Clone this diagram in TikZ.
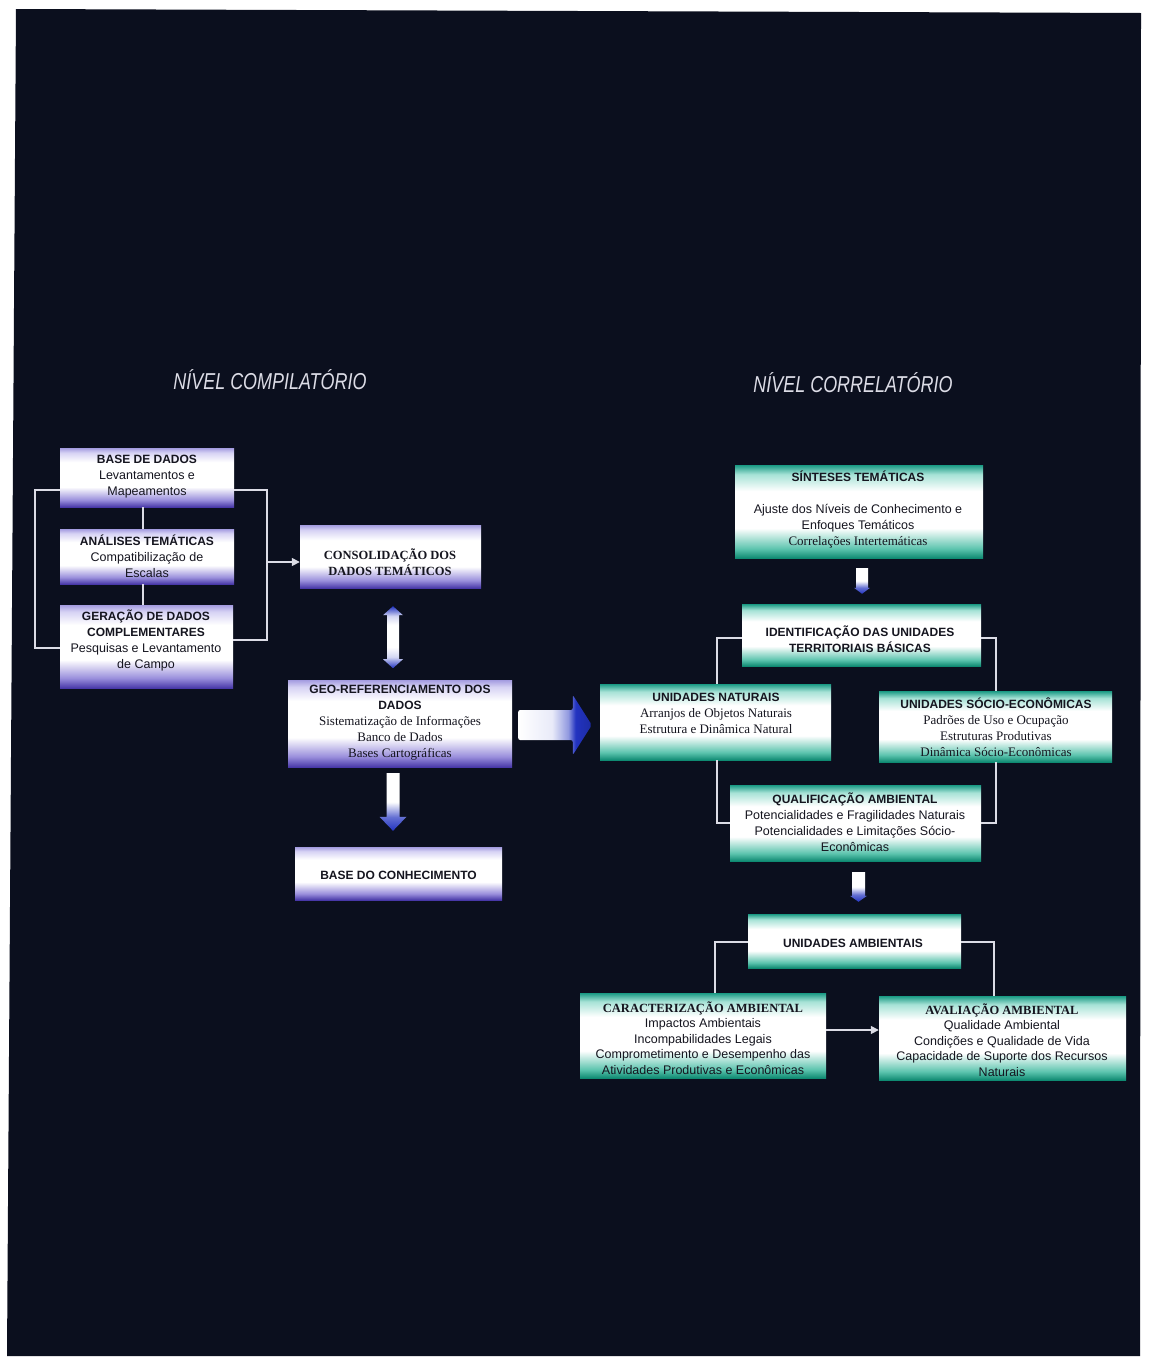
\documentclass[tikz,border=0pt]{standalone}
\usepackage{fontspec}
\usepackage{graphicx}
\setmainfont{Liberation Serif}
\setsansfont{Liberation Sans}
\usetikzlibrary{arrows.meta,calc}
\definecolor{bg}{HTML}{0B0F1E}
\definecolor{tx}{HTML}{15151F}
\definecolor{ln}{HTML}{DCDCE6}
\definecolor{pbot}{HTML}{4838A8}
\definecolor{pmid}{HTML}{9A8FDC}
\definecolor{ptopl}{HTML}{D6D2F4}
\definecolor{ptop}{HTML}{A49CE0}
\definecolor{tbot}{HTML}{0F8A72}
\definecolor{tmid}{HTML}{5CC4AE}
\definecolor{ttopl}{HTML}{A6E2D6}
\definecolor{ttop}{HTML}{1A9A84}
\definecolor{ablue}{HTML}{2233C0}
\pgfdeclareverticalshading{purplebox}{100bp}{color(0bp)=(pbot); color(25bp)=(pbot); color(31bp)=(pmid); color(42bp)=(white); color(63bp)=(white); color(71bp)=(ptopl); color(75bp)=(ptop); color(100bp)=(ptop)}
\pgfdeclareverticalshading{tealbox}{100bp}{color(0bp)=(tbot); color(25bp)=(tbot); color(30bp)=(tmid); color(41bp)=(white); color(61bp)=(white); color(70bp)=(ttopl); color(75bp)=(ttop); color(100bp)=(ttop)}
\pgfdeclarehorizontalshading{rarrow}{100bp}{color(0bp)=(white); color(25bp)=(white); color(48bp)=(white!90!ablue); color(59bp)=(ablue!50!white); color(64bp)=(ablue); color(75bp)=(ablue!85!black); color(100bp)=(ablue!85!black)}
\pgfdeclareverticalshading{darrow}{100bp}{color(0bp)=(ablue); color(25bp)=(ablue); color(37bp)=(ablue!70!white); color(50bp)=(white); color(75bp)=(white); color(100bp)=(white)}
\pgfdeclareverticalshading{dblarrow}{100bp}{color(0bp)=(ablue); color(25bp)=(ablue); color(34bp)=(white!80!ablue); color(42bp)=(white); color(60bp)=(white); color(67bp)=(white!80!ablue); color(75bp)=(ablue); color(100bp)=(ablue)}
\newcommand{\hs}{\sffamily\bfseries\fontsize{12}{16}\selectfont}
\newcommand{\bs}{\sffamily\fontsize{12.5}{16}\selectfont}
\newcommand{\rs}{\rmfamily\fontsize{13}{16}\selectfont}
\newcommand{\hr}{\rmfamily\bfseries\fontsize{12.5}{16}\selectfont}
\tikzset{
  pbox/.style={rectangle, inner sep=0pt, shade, shading=purplebox},
  tbox/.style={rectangle, inner sep=0pt, shade, shading=tealbox},
  txt/.style={align=center, text=tx, inner sep=0pt, font=\fontsize{12}{16}\selectfont},
  conn/.style={draw=ln, line width=1.5pt},
  carrow/.style={conn, -{Triangle[length=8pt,width=8pt]}},
  ttl/.style={text=ln, font=\sffamily\itshape\fontsize{23}{23}\selectfont}
}
\begin{document}
\begin{tikzpicture}[x=1pt,y=-1pt]
\useasboundingbox (0,0) rectangle (1156,1358);
\fill[white] (0,0) rectangle (1156,1358);
\fill[bg] (16,9) -- (1141,13) -- (1140,1356) -- (7,1356) -- cycle;

% titles
\node[ttl] (t1) at (270,380) {\scalebox{0.78}[1]{NÍVEL COMPILATÓRIO}};
\node[ttl] (t2) at (853,383) {\scalebox{0.78}[1]{NÍVEL CORRELATÓRIO}};

% left column boxes
\node[pbox, minimum width=174pt, minimum height=59pt] (b1) at (147,477.5) {};
\node[txt] (b1t) at (147,477) {{\hs BASE DE DADOS}\\{\bs Levantamentos e}\\{\bs Mapeamentos}};
\node[pbox, minimum width=174pt, minimum height=55pt] (b2) at (147,556.5) {};
\node[txt] (b2t) at (147,556) {{\hs ANÁLISES TEMÁTICAS}\\{\bs Compatibilização de}\\{\bs Escalas}};
\node[pbox, minimum width=173pt, minimum height=83pt] (b3) at (146.5,646.5) {};
\node[txt] (b3t) at (146,640) {{\hs GERAÇÃO DE DADOS}\\{\hs COMPLEMENTARES}\\{\bs Pesquisas e Levantamento}\\{\bs de Campo}};

\node[pbox, minimum width=181pt, minimum height=63pt] (cons) at (390.5,556.5) {};
\node[txt] (const) at (390,562) {{\hr CONSOLIDAÇÃO DOS}\\{\hr DADOS TEMÁTICOS}};
\node[pbox, minimum width=224pt, minimum height=87pt] (geo) at (400,723.5) {};
\node[txt] (geot) at (400,723) {{\hs GEO-REFERENCIAMENTO DOS}\\{\hs DADOS}\\{\rs Sistematização de Informações}\\{\rs Banco de Dados}\\{\rs Bases Cartográficas}};
\node[pbox, minimum width=207pt, minimum height=53pt] (bc) at (398.5,873.5) {};
\node[txt] (bct) at (398.5,875) {\hs BASE DO CONHECIMENTO};

% left connectors
\coordinate (lA) at (35,490);
\coordinate (lB) at (35,648);
\draw[conn] (b1.west |- lA) -- (lA) -- (lB) -- (b3.west |- lB);
\coordinate (rA) at (267,490);
\coordinate (rB) at (267,640);
\draw[conn] (b1.east |- rA) -- (rA) -- (rB) -- (b3.east |- rB);
\coordinate (rM) at (267,562);
\draw[carrow] (rM) -- (cons.west |- rM);
\coordinate (vx) at (143,0);
\draw[conn] (vx |- b1.south) -- (vx |- b2.north);
\draw[conn] (vx |- b2.south) -- (vx |- b3.north);

% double arrow cons <-> geo
\coordinate (dt) at ($(cons.south)+(2.5,18)$);
\shade[shading=dblarrow] (dt) -- ($(dt)+(10,9)$) -- ($(dt)+(6,9)$) -- ($(dt)+(6,53)$) -- ($(dt)+(10,53)$) -- ($(dt)+(0,62)$) -- ($(dt)+(-10,53)$) -- ($(dt)+(-6,53)$) -- ($(dt)+(-6,9)$) -- ($(dt)+(-10,9)$) -- cycle;

% down arrow geo -> bc
\coordinate (da) at ($(geo.south)+(-7,6)$);
\coordinate (db) at ($(bc.north)+(-5.5,-16)$);
\shade[shading=darrow] ($(da)+(-6.5,0)$) -- ($(da)+(6.5,0)$) -- ($(db)+(6.5,-14)$) -- ($(db)+(13.5,-14)$) -- (db) -- ($(db)+(-13.5,-14)$) -- ($(db)+(-6.5,-14)$) -- cycle;

% right column boxes
\node[tbox, minimum width=248pt, minimum height=93pt] (sin) at (859,511.5) {};
\node[txt] (sint) at (858,510) {{\hs SÍNTESES TEMÁTICAS}\\[16pt]{\bs Ajuste dos Níveis de Conhecimento e}\\{\bs Enfoques Temáticos}\\{\rs Correlações Intertemáticas}};
\node[tbox, minimum width=239pt, minimum height=62pt] (ide) at (861.5,635) {};
\node[txt] (idet) at (860,639) {{\hs IDENTIFICAÇÃO DAS UNIDADES}\\{\hs TERRITORIAIS BÁSICAS}};
\node[tbox, minimum width=231pt, minimum height=76pt] (nat) at (715.5,722) {};
\node[txt] (natt) at (716,713) {{\hs UNIDADES NATURAIS}\\{\rs Arranjos de Objetos Naturais}\\{\rs Estrutura e Dinâmica Natural}};
\node[tbox, minimum width=233pt, minimum height=71pt] (soc) at (995.5,726.5) {};
\node[txt] (soct) at (996,727) {{\hs UNIDADES SÓCIO-ECONÔMICAS}\\{\rs Padrões de Uso e Ocupação}\\{\rs Estruturas Produtivas}\\{\rs Dinâmica Sócio-Econômicas}};
\node[tbox, minimum width=251pt, minimum height=76pt] (qua) at (855.5,823) {};
\node[txt] (quat) at (855,822) {{\hs QUALIFICAÇÃO AMBIENTAL}\\{\bs Potencialidades e Fragilidades Naturais}\\{\bs Potencialidades e Limitações Sócio-}\\{\bs Econômicas}};
\node[tbox, minimum width=213pt, minimum height=54pt] (uam) at (854.5,941) {};
\node[txt] (uamt) at (853,943) {\hs UNIDADES AMBIENTAIS};
\node[tbox, minimum width=246pt, minimum height=85pt] (car) at (703,1035.5) {};
\node[txt, font=\fontsize{12}{15.5}\selectfont] (cart) at (703,1038) {{\hr CARACTERIZAÇÃO AMBIENTAL}\\{\bs Impactos Ambientais}\\{\bs Incompabilidades Legais}\\{\bs Comprometimento e Desempenho das}\\{\bs Atividades Produtivas e Econômicas}};
\node[tbox, minimum width=247pt, minimum height=84pt] (ava) at (1002.5,1038) {};
\node[txt, font=\fontsize{12}{15.5}\selectfont] (avat) at (1002,1040) {{\hr AVALIAÇÃO AMBIENTAL}\\{\bs Qualidade Ambiental}\\{\bs Condições e Qualidade de Vida}\\{\bs Capacidade de Suporte dos Recursos}\\{\bs Naturais}};

% big right arrow geo -> nat
\coordinate (ra) at ($(geo.east)+(6,1.5)$);
\coordinate (rb) at ($(nat.west)+(-8,3)$);
\shade[shading=rarrow, rounded corners=2pt] ($(ra)+(0,-15)$) -- ($(rb)+(-19,-15)$) -- ($(rb)+(-19,-30)$) -- (rb) -- ($(rb)+(-19,30)$) -- ($(rb)+(-19,15)$) -- ($(ra)+(0,15)$) -- cycle;

% small down arrows
\coordinate (s1a) at ($(sin.south)+(3,10)$);
\coordinate (s1b) at ($(ide.north)+(0.5,-10)$);
\shade[shading=darrow] ($(s1a)+(-6,0)$) -- ($(s1a)+(6,0)$) -- ($(s1b)+(6,-6)$) -- ($(s1b)+(8,-6)$) -- (s1b) -- ($(s1b)+(-8,-6)$) -- ($(s1b)+(-6,-6)$) -- cycle;
\coordinate (s2a) at ($(qua.south)+(3,11)$);
\coordinate (s2b) at ($(uam.north)+(4,-12)$);
\shade[shading=darrow] ($(s2a)+(-6.5,0)$) -- ($(s2a)+(6.5,0)$) -- ($(s2b)+(6.5,-6)$) -- ($(s2b)+(8.5,-6)$) -- (s2b) -- ($(s2b)+(-8.5,-6)$) -- ($(s2b)+(-6.5,-6)$) -- cycle;

% right connectors
\coordinate (iL) at (717,638);
\coordinate (iR) at (996,638);
\draw[conn] (ide.west |- iL) -- (iL) -- (iL |- nat.north);
\draw[conn] (ide.east |- iR) -- (iR) -- (iR |- soc.north);
\coordinate (qL) at (717,823);
\coordinate (qR) at (996,823);
\draw[conn] (qL |- nat.south) -- (qL) -- (qua.west |- qL);
\draw[conn] (qR |- soc.south) -- (qR) -- (qua.east |- qR);
\coordinate (uL) at (715,942);
\coordinate (uR) at (994,942);
\draw[conn] (uam.west |- uL) -- (uL) -- (uL |- car.north);
\draw[conn] (uam.east |- uR) -- (uR) -- (uR |- ava.north);
\coordinate (cA) at (0,1030);
\draw[carrow] (car.east |- cA) -- (ava.west |- cA);
\end{tikzpicture}
\end{document}
